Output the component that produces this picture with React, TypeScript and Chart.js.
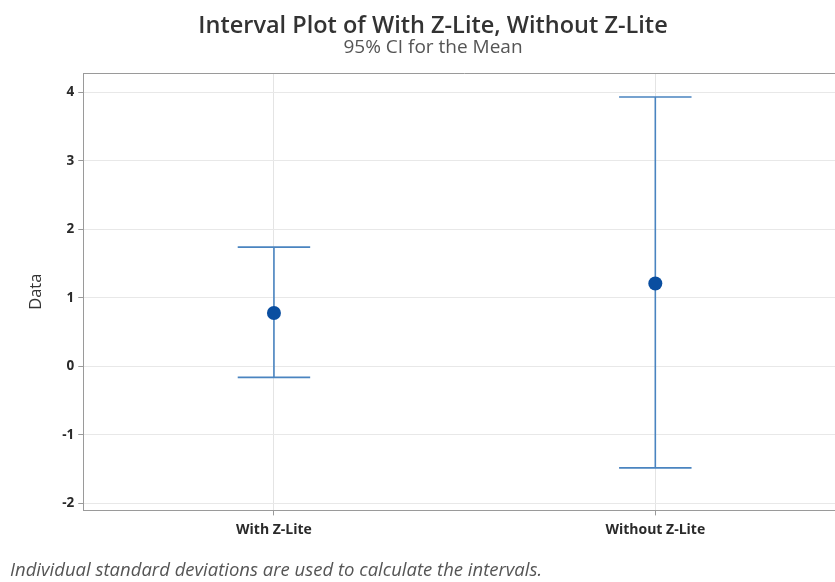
import React, { useEffect, useRef } from "react";
import { Chart, registerables } from "chart.js";

Chart.register(...registerables);

const categories = ["With Z-Lite", "Without Z-Lite"];
const means = [0.78, 1.21];
const lowerCI = [-0.16, -1.48];
const upperCI = [1.74, 3.93];
const yMin = -2.1;
const yMax = 4.28;

const titleText = "Interval Plot of With Z-Lite, Without Z-Lite";
const subtitleText = "95% CI for the Mean";
const yTitle = "Data";
const footnote = "Individual standard deviations are used to calculate the intervals.";

export default function App() {
  const ref = useRef<HTMLCanvasElement>(null);

  useEffect(() => {
    if (!ref.current) return;

    const whiskers = {
      id: "whiskers",
      beforeDatasetsDraw(chart: any) {
        const { ctx, scales } = chart;
        const x = scales.x;
        const y = scales.y;
        const capHalf = (x.getPixelForValue(1) - x.getPixelForValue(0)) * 0.095;
        ctx.save();
        ctx.strokeStyle = "#4a84c0";
        ctx.lineWidth = 1.6;
        categories.forEach((_c, i) => {
          const px = x.getPixelForValue(i);
          const top = y.getPixelForValue(upperCI[i]);
          const bot = y.getPixelForValue(lowerCI[i]);
          ctx.beginPath();
          ctx.moveTo(px, top);
          ctx.lineTo(px, bot);
          ctx.moveTo(px - capHalf, top);
          ctx.lineTo(px + capHalf, top);
          ctx.moveTo(px - capHalf, bot);
          ctx.lineTo(px + capHalf, bot);
          ctx.stroke();
        });
        ctx.restore();
      },
    };

    const frame = {
      id: "frame",
      afterDraw(chart: any) {
        const { ctx, chartArea } = chart;
        ctx.save();
        ctx.strokeStyle = "#9a9a9a";
        ctx.lineWidth = 1;
        ctx.beginPath();
        ctx.moveTo(chartArea.left, chartArea.top + 0.5);
        ctx.lineTo(chartArea.right, chartArea.top + 0.5);
        ctx.stroke();
        ctx.restore();
      },
    };

    const chart = new Chart(ref.current, {
      type: "line",
      data: {
        labels: categories,
        datasets: [
          {
            data: means,
            showLine: false,
            pointRadius: 7,
            pointBackgroundColor: "#0a4ea0",
            pointBorderColor: "#0a4ea0",
            pointBorderWidth: 0,
          },
        ],
      },
      options: {
        responsive: false,
        animation: false,
        layout: { padding: { left: 20, right: 32, top: 0, bottom: 36.6 } },
        plugins: {
          legend: { display: false },
          tooltip: { enabled: false },
          title: {
            display: true,
            text: titleText,
            color: "#333333",
            font: { family: "'Open Sans'", size: 23.5, weight: 600, lineHeight: 1.0 },
            padding: { top: 14.5, bottom: 0 },
          },
          subtitle: {
            display: true,
            text: subtitleText,
            color: "#555555",
            font: { family: "'Open Sans'", size: 19, weight: 400, lineHeight: 1.0 },
            padding: { top: 0, bottom: 16 },
          },
        },
        scales: {
          x: {
            type: "category",
            offset: true,
            grid: {
              offset: false,
              color: "#e4e4e4",
              tickColor: "#9a9a9a",
              tickLength: 5,
            },
            border: { color: "#9a9a9a" },
            ticks: {
              color: "#2a2a2a",
              font: { family: "'Open Sans'", size: 14, weight: 700 },
              padding: 6.6,
            },
          },
          y: {
            type: "linear",
            min: yMin,
            max: yMax,
            ticks: {
              stepSize: 1,
              includeBounds: false,
              color: "#2a2a2a",
              font: { family: "'Open Sans'", size: 13.5, weight: 700 },
              padding: 4,
            },
            grid: {
              color: "#e8e8e8",
              tickColor: "#9a9a9a",
              tickLength: 5,
            },
            border: { color: "#9a9a9a" },
            title: {
              display: true,
              text: yTitle,
              color: "#333333",
              font: { family: "'Open Sans'", size: 16.5, weight: 400 },
              padding: { top: 6.4, bottom: 12 },
            },
          },
        },
      },
      plugins: [whiskers, frame],
    } as any);

    return () => chart.destroy();
  }, []);

  return (
    <div
      style={{
        position: "absolute",
        left: 0,
        top: 0,
        width: 835,
        height: 582,
        overflow: "hidden",
        background: "#ffffff",
      }}
    >
      <canvas ref={ref} width={878} height={582} style={{ display: "block", width: 878, height: 582 }} />
      <div
        style={{
          position: "absolute",
          left: 10,
          top: 557,
          lineHeight: "24px",
          fontFamily: "'Open Sans'",
          fontStyle: "italic",
          fontSize: 18.5,
          color: "#555555",
          whiteSpace: "nowrap",
        }}
      >
        {footnote}
      </div>
    </div>
  );
}
